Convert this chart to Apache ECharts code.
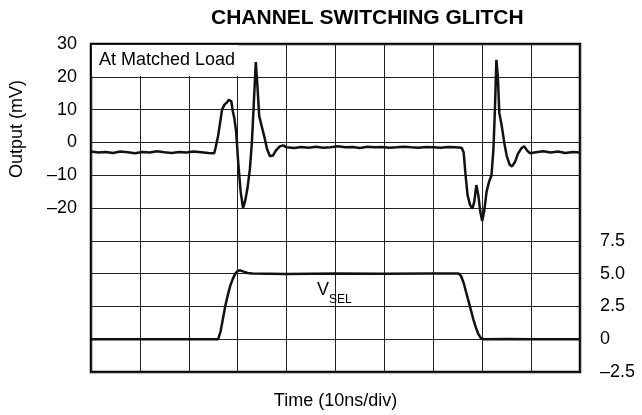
<!DOCTYPE html>
<html>
<head>
<meta charset="utf-8">
<script src="https://cdn.jsdelivr.net/npm/echarts@6/dist/echarts.min.js"></script>
<style>
html, body { margin: 0; padding: 0; background: #fff; }
#chart { width: 642px; height: 415px; }
</style>
</head>
<body>
<div id="chart"></div>
<script>
// glitch trace, time in ns (10 ns/div), output in mV
var glitchTime = [0, 1.5, 3, 4.5, 6, 7.5, 9, 10.5, 12, 13.5, 15, 16.5, 18, 19.5, 21, 22.5, 24, 25.2,
    25.5, 26.0, 26.4, 26.8, 27.3, 27.8, 28.2, 28.7, 29.0, 29.3, 29.7, 30.1, 30.6, 31.1, 31.5, 32.0, 32.5, 32.9,
    33.3, 33.7, 34.0, 34.4, 34.9, 35.4, 36.0, 36.6, 37.2, 37.8, 38.6, 39.3, 40,
    41.5, 43, 44.5, 46, 47.5, 49, 50.5, 52, 53.5, 55, 56.5, 58, 59.5, 61, 62.5, 64, 65.5, 67, 68.5, 70, 71.5, 73, 74.5, 75.8,
    76.2, 76.6, 77.0, 77.5, 78.0, 78.4, 78.8, 79.2, 79.6, 80.0, 80.4, 80.9, 81.4, 81.9, 82.3, 82.6, 82.9, 83.2, 83.5,
    84.0, 84.5, 85.0, 85.6, 86.1, 86.7, 87.3, 88.0, 88.6, 89.2, 89.8, 91, 92.5, 94, 95.5, 97, 98.5, 100];
var glitchMv = [-2.8, -3.1, -2.9, -3.2, -2.8, -3.0, -3.3, -2.9, -3.1, -2.7, -3.0, -3.2, -2.9, -3.1, -2.8, -3.0, -3.2, -3.3,
    -1.5, 2, 6, 10, 11.5, 12.2, 13, 12.5, 9.5, 7.5, 3, -6, -15, -20, -18, -14, -8, 0,
    12, 24.5, 18, 8, 5, 2, -2, -4.2, -4, -2.5, -1.2, -0.9, -1.5,
    -1.7, -1.4, -1.6, -1.3, -1.6, -1.5, -1.2, -1.5, -1.4, -1.7, -1.3, -1.5, -1.4, -1.6, -1.5, -1.3, -1.5, -1.6, -1.4, -1.5, -1.6, -1.4, -1.5, -1.6,
    -3, -10, -16, -19, -20.2, -18, -13, -16, -21, -24, -21, -15, -12, -10, -2, 10, 25.2, 20, 9,
    5, 0, -4, -6.8, -7.3, -6, -3.5, -1.8, -1.2, -2.5, -3.3, -3.0, -2.7, -3.1, -2.8, -3.2, -2.9, -3.1];

// select voltage trace, in V
var vselTime = [0, 5, 10, 15, 20, 25, 26.0, 26.5, 27.0, 27.5, 28.0, 28.5, 29.0, 29.5, 30.0, 30.5, 31.2, 32, 33,
    40, 50, 60, 70, 75.2, 75.7, 76.2, 76.7, 77.2, 77.7, 78.2, 78.7, 79.2, 79.7, 80.2, 85, 90, 100];
var vselVolt = [0, 0, 0, 0, 0, 0, 0, 0.6, 1.6, 2.6, 3.4, 4.1, 4.6, 5.0, 5.2, 5.25, 5.15, 5.05, 5.0,
    4.97, 5.0, 4.98, 5.0, 5.0, 4.8, 4.3, 3.6, 2.9, 2.2, 1.5, 0.9, 0.4, 0.1, 0, 0.02, 0, 0];

var mvTicks = [30, 20, 10, 0, -10, -20];
var voltTicks = [7.5, 5.0, 2.5, 0, -2.5];

function pairs(xs, ys) {
    var out = [];
    for (var i = 0; i < xs.length; i++) out.push([xs[i], ys[i]]);
    return out;
}
function dash(s) {
    return String(s).replace('-', '\u2013');
}

var font = 'Liberation Sans, Arial, sans-serif';
var myChart = echarts.init(document.getElementById('chart'));
var option = {
    animation: false,
    title: {
        text: 'CHANNEL SWITCHING GLITCH',
        left: 211,
        top: 8,
        padding: 0,
        textStyle: { fontFamily: font, fontSize: 21, fontWeight: 'bold', color: '#000' }
    },
    grid: {
        left: 91, right: 62, top: 44, bottom: 40,
        show: true, borderColor: '#000', borderWidth: 2.5, backgroundColor: 'transparent'
    },
    xAxis: {
        type: 'value', min: 0, max: 100, interval: 10,
        name: 'Time (10ns/div)', nameLocation: 'middle', nameGap: 20,
        nameTextStyle: { fontFamily: font, fontSize: 18, color: '#000' },
        axisLine: { show: false }, axisTick: { show: false }, axisLabel: { show: false },
        splitLine: { show: true, lineStyle: { color: '#222', width: 1 } }
    },
    yAxis: [{
        type: 'value', min: -70, max: 30, interval: 10,
        axisLine: { show: false }, axisTick: { show: false },
        axisLabel: {
            margin: 14, fontFamily: font, fontSize: 18, color: '#000',
            showMinLabel: true, showMaxLabel: true,
            formatter: function (v) { return mvTicks.indexOf(v) >= 0 ? dash(v) : ''; }
        },
        splitLine: { show: true, lineStyle: { color: '#222', width: 1 } }
    }, {
        type: 'value', min: -2.5, max: 22.5, interval: 2.5, position: 'right',
        axisLine: { show: false }, axisTick: { show: false },
        axisLabel: {
            margin: 20, fontFamily: font, fontSize: 18, color: '#000',
            showMinLabel: true, showMaxLabel: true,
            formatter: function (v) {
                if (voltTicks.indexOf(v) < 0) return '';
                return v === 0 ? '0' : dash(v.toFixed(1));
            }
        },
        splitLine: { show: false }
    }],
    graphic: [{
        type: 'rect', left: 92, top: 45, shape: { width: 146, height: 31 },
        style: { fill: '#fff' }, z: 5
    }, {
        type: 'text', left: 99, top: 51, z: 6,
        style: { text: 'At Matched Load', font: '18px ' + font, fill: '#000' }
    }, {
        type: 'text', left: 317, top: 281, z: 6,
        style: { text: 'V', font: '18px ' + font, fill: '#000' }
    }, {
        type: 'text', left: 329, top: 294, z: 6,
        style: { text: 'SEL', font: '12px ' + font, fill: '#000' }
    }, {
        type: 'text', left: 8, top: 80, rotation: Math.PI / 2, z: 6,
        style: { text: 'Output (mV)', font: '18px ' + font, fill: '#000' }
    }],
    series: [{
        name: 'Output', type: 'line', yAxisIndex: 0, showSymbol: false,
        lineStyle: { color: '#111', width: 2.5 },
        data: pairs(glitchTime, glitchMv)
    }, {
        name: 'VSEL', type: 'line', yAxisIndex: 1, showSymbol: false,
        lineStyle: { color: '#111', width: 2.5 },
        data: pairs(vselTime, vselVolt)
    }]
};
myChart.setOption(option);
</script>
</body>
</html>
